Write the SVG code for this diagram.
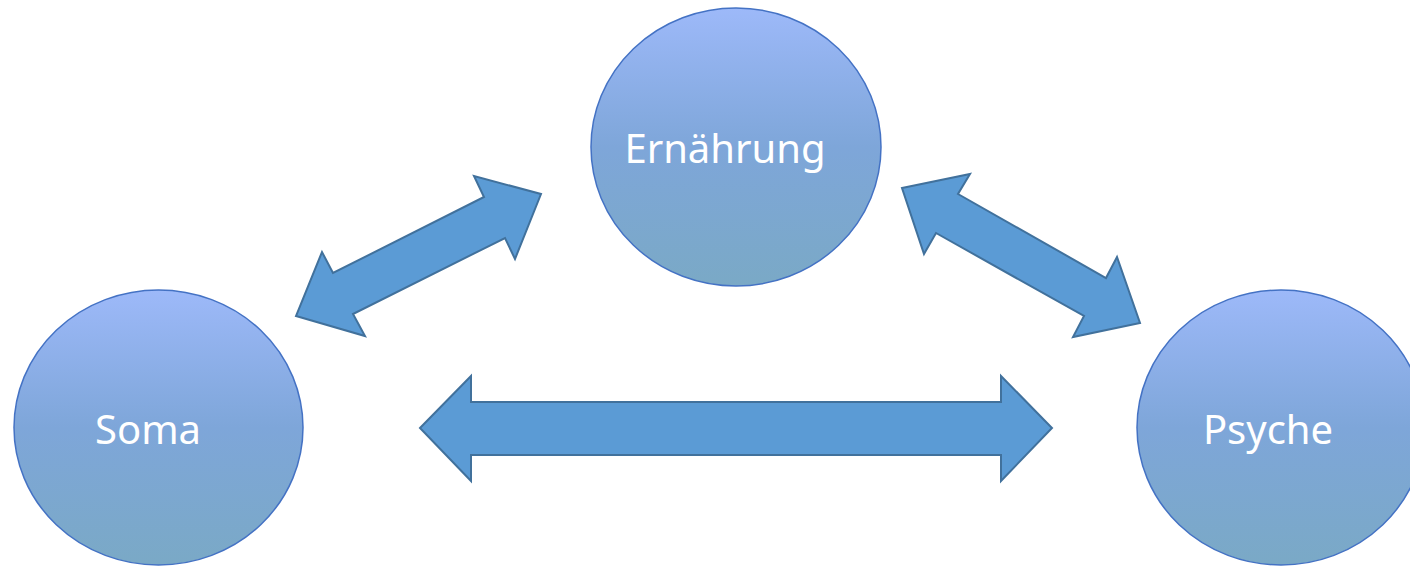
<svg xmlns="http://www.w3.org/2000/svg" width="1410" height="566" viewBox="0 0 1410 566">
<defs>
<linearGradient id="g" x1="0" y1="0" x2="0" y2="1">
<stop offset="0" stop-color="#9db9f9"/>
<stop offset="0.5" stop-color="#7ea6d9"/>
<stop offset="1" stop-color="#7aa9c6"/>
</linearGradient>
</defs>
<style>
.node{fill:url(#g);stroke:#4472c4;stroke-width:1.5}
.lbl{font-family:"Noto Sans","Liberation Sans",sans-serif;font-size:40px;fill:#ffffff;text-anchor:middle}
.arr{fill:#5b9bd5;stroke:#41719c;stroke-width:2;stroke-linejoin:miter}
</style>
<rect width="1410" height="566" fill="#ffffff"/>
<g id="connectors">
<polygon class="arr" points="296,316 365,336 353,314 505,238 515,259 541,194 474,176 484,197 333,273 322,252"/>
<polygon class="arr" points="902,188 970,174 958,194 1106,278 1117,257 1140,323 1073,337 1084,316 936,233 924,254"/>
<polygon class="arr" points="420,428 471,376 471,402 1001,402 1001,376 1052,428 1001,481 1001,455 471,455 471,481"/>
</g>
<g id="node-ernaehrung">
<ellipse class="node" cx="736" cy="147" rx="145" ry="139"/>
<text class="lbl" x="725" y="163">Ernährung</text>
</g>
<g id="node-soma">
<ellipse class="node" cx="158.5" cy="427.5" rx="144.5" ry="137.5"/>
<text class="lbl" x="148" y="444">Soma</text>
</g>
<g id="node-psyche">
<ellipse class="node" cx="1281" cy="427.5" rx="144" ry="137.5"/>
<text class="lbl" x="1268" y="444">Psyche</text>
</g>
</svg>
